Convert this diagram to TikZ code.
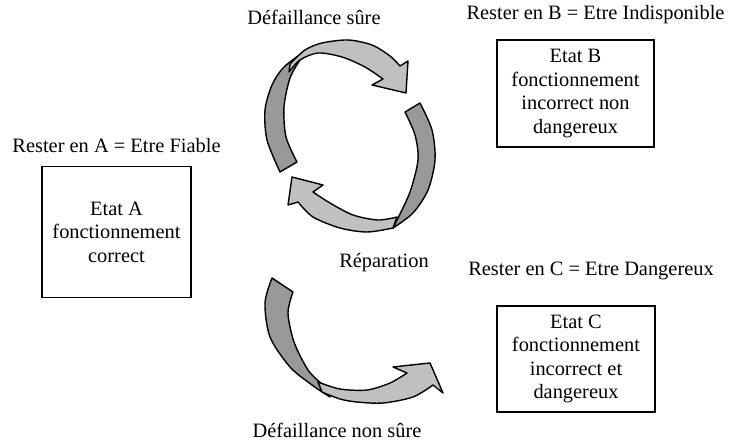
\documentclass[tikz,border=0pt]{standalone}
\usepackage{fontspec}
\setmainfont{Liberation Serif}
\usetikzlibrary{positioning}

\begin{document}
\begin{tikzpicture}[
  x=1pt, y=-1pt,
  every node/.style={font=\fontsize{20.4}{23.5}\selectfont, align=center},
  etat/.style={draw, line width=1.3pt, inner sep=0pt},
  darkband/.style={draw=black, line width=1.4pt, line join=round, fill={rgb,255:red,153;green,153;blue,153}},
  lightband/.style={draw=black, line width=1.4pt, line join=round, fill={rgb,255:red,192;green,192;blue,192}}
]
\useasboundingbox (0,0) rectangle (729,441);

% Etats
\node (A) [etat, minimum width=149pt, minimum height=131pt] at (116.5,232) {Etat A\\fonctionnement\\correct};
\node (B) [etat, minimum width=157pt, minimum height=107pt] at (575.5,93.5) {Etat B\\fonctionnement\\incorrect non\\dangereux};
\node (C) [etat, minimum width=158pt, minimum height=106pt] at (576,359) {Etat C\\fonctionnement\\incorrect et\\dangereux};

% Libelles
\node (resterA) [above=10pt of A] {Rester en A = Etre Fiable};
\node (resterB) [above=12pt of B, xshift=20pt] {Rester en B = Etre Indisponible};
\node (resterC) [above=22pt of C, xshift=15pt] {Rester en C = Etre Dangereux};

% Transitions
\node (defsure) at (314,17) {D\'efaillance s\^ure};
\node (repar) at (384,263) {R\'eparation};
\node (defnonsure) at (337,430) {D\'efaillance non s\^ure};

% Defaillance sure
\draw[darkband] plot[smooth] coordinates {(280,172) (267,140) (265,110) (272,85) (283,68) (298,56)}
  -- plot[smooth] coordinates {(300,60) (290,78) (284,107) (286,137) (297,162)} -- cycle;
\draw[lightband] plot[smooth] coordinates {(290,64) (305,50) (322,43) (348,40) (372,45) (390,56) (400,66)}
  -- (408,61) -- (406,93) -- (372,85) -- (383,79)
  -- plot[smooth] coordinates {(383,79) (365,67) (342,57) (318,53) (300,60) (289,72)} -- cycle;

% Reparation
\draw[darkband] plot[smooth] coordinates {(420,103) (432,130) (435,160) (428,190) (413,213) (393,228)}
  -- plot[smooth] coordinates {(397,220) (410,192) (418,160) (415,135) (405,112)} -- cycle;
\draw[lightband] plot[smooth] coordinates {(393,228) (367,232) (340,228) (313,217) (298,202)}
  -- (288,205) -- (292,177) -- (323,185) -- (313,192)
  -- plot[smooth] coordinates {(313,192) (330,203) (353,215) (378,220) (397,217)} -- cycle;

% Defaillance non sure
\draw[darkband] plot[smooth] coordinates {(272,278) (265,303) (270,337) (290,367) (312,385) (330,397)}
  -- plot[smooth] coordinates {(322,384) (308,370) (294,342) (288,313) (293,292)} -- cycle;
\draw[lightband] plot[smooth] coordinates {(322,392) (340,399) (357,402) (383,403) (413,397) (433,385)}
  -- (443,393) -- (430,363) -- (393,367) -- (407,373)
  -- plot[smooth] coordinates {(407,373) (390,383) (367,390) (340,389) (318,382)} -- cycle;

\end{tikzpicture}
\end{document}
